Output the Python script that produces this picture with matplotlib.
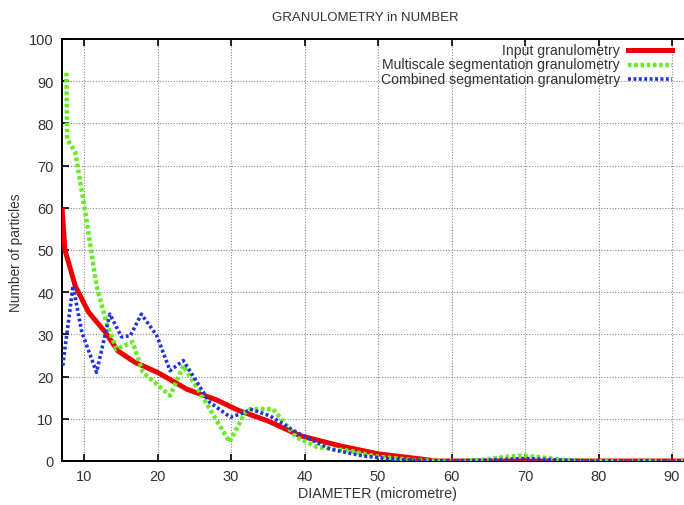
import matplotlib
matplotlib.use("Agg")
import matplotlib.pyplot as plt
from matplotlib.lines import Line2D

# --- data ---
input_d = [7.0, 7.4, 8.8, 10.6, 12.9, 14.6, 16.9, 20.0, 24.0, 28.0, 31.0, 35.0,
           39.4, 44.8, 50.0, 55.7, 58.0, 65.0, 70.0, 80.0, 92.0]
input_n = [60.0, 50.0, 41.5, 35.3, 30.5, 26.1, 23.4, 21.0, 17.0, 14.5, 12.0, 9.5,
           6.0, 3.6, 1.7, 0.5, 0.0, 0.0, 0.0, 0.0, 0.0]

multi_d = [7.6, 7.7, 8.8, 10.1, 11.7, 13.0, 14.4, 16.6, 18.0, 21.7, 23.5, 25.6,
           29.8, 31.9, 32.6, 35.7, 38.9, 41.7, 46.2, 50.0, 55.0, 60.0, 64.0,
           67.0, 69.5, 72.0, 75.0, 80.0, 92.0]
multi_n = [92.0, 76.3, 73.2, 59.7, 41.5, 33.0, 26.5, 28.2, 21.0, 15.5, 22.6, 16.7,
           4.5, 11.5, 12.3, 12.3, 5.6, 3.3, 2.4, 1.0, 0.2, 0.0, 0.2,
           0.9, 1.3, 0.9, 0.3, 0.0, 0.0]

comb_d = [7.1, 8.5, 9.7, 11.7, 13.5, 15.1, 16.3, 17.8, 19.9, 21.7, 23.5, 27.1,
          29.9, 31.9, 32.6, 35.3, 38.9, 43.5, 48.0, 52.0, 56.0, 60.0, 65.0,
          70.0, 75.0, 80.0, 92.0]
comb_n = [22.6, 41.5, 30.5, 21.0, 34.8, 29.4, 29.7, 34.8, 29.7, 21.4, 23.8, 13.9,
          10.4, 11.5, 12.3, 10.7, 6.8, 2.8, 1.2, 0.4, 0.1, 0.0, 0.2,
          0.6, 0.2, 0.0, 0.0]

labels = ["Input granulometry",
          "Multiscale segmentation granulometry",
          "Combined segmentation granulometry"]
colors = ["#ee0000", "#66ee22", "#2233dd"]

x_ticks = list(range(10, 91, 10))
y_ticks = list(range(0, 101, 10))

plt.rcParams['font.family'] = ['Liberation Sans', 'DejaVu Sans']
txt = "#333333"

fig = plt.figure(figsize=(6.84, 5.06), dpi=100)
# axes run a little past the right edge of the canvas like in the cropped original
ax = fig.add_axes([62 / 684, 44 / 506, 86 * 7.35 / 684, 422 / 506])
ax.set_xlim(7, 93)
ax.set_ylim(0, 100)

ax.plot(input_d, input_n, color=colors[0], lw=3.6, solid_capstyle='butt', zorder=3)
ax.plot(multi_d, multi_n, color=colors[1], lw=3.2, linestyle=(0, (0.8, 0.6)), zorder=4)
ax.plot(comb_d, comb_n, color=colors[2], lw=2.6, linestyle=(0, (0.8, 0.7)), zorder=5)

ax.set_xticks(x_ticks)
ax.set_yticks(y_ticks)
ax.tick_params(direction='in', length=5, width=1.2, top=True, right=False,
               labelsize=10.5, labelcolor=txt, pad=6)
ax.grid(True, color='#888888', linestyle=(0, (1, 1.5)), lw=0.8)
for s in ax.spines.values():
    s.set_linewidth(1.4)

fig.text(365 / 684, 1 - 18 / 506, "GRANULOMETRY in NUMBER", ha='center', va='center',
         fontsize=9.5, color=txt)
fig.text(377 / 684, 1 - 494 / 506, "DIAMETER (micrometre)", ha='center', va='center',
         fontsize=10.3, color=txt)
fig.text(16 / 684, 1 - 253 / 506, "Number of particles", ha='center', va='center',
         rotation=90, fontsize=9.8, color=txt)

# gnuplot style key: right aligned text, sample on the right
styles = [dict(lw=3.6, linestyle='-'),
          dict(lw=3.2, linestyle=(0, (0.8, 0.6))),
          dict(lw=2.6, linestyle=(0, (0.8, 0.7)))]
for i, (lab, col, st) in enumerate(zip(labels, colors, styles)):
    yy = 1 - (51 + i * 14.5) / 506
    fig.text(620 / 684, yy, lab, ha='right', va='center', fontsize=10.1, color=txt)
    fig.add_artist(Line2D([628 / 684, 672 / 684], [yy, yy], color=col,
                          transform=fig.transFigure, **st))

fig.savefig("out.png", dpi=100)
